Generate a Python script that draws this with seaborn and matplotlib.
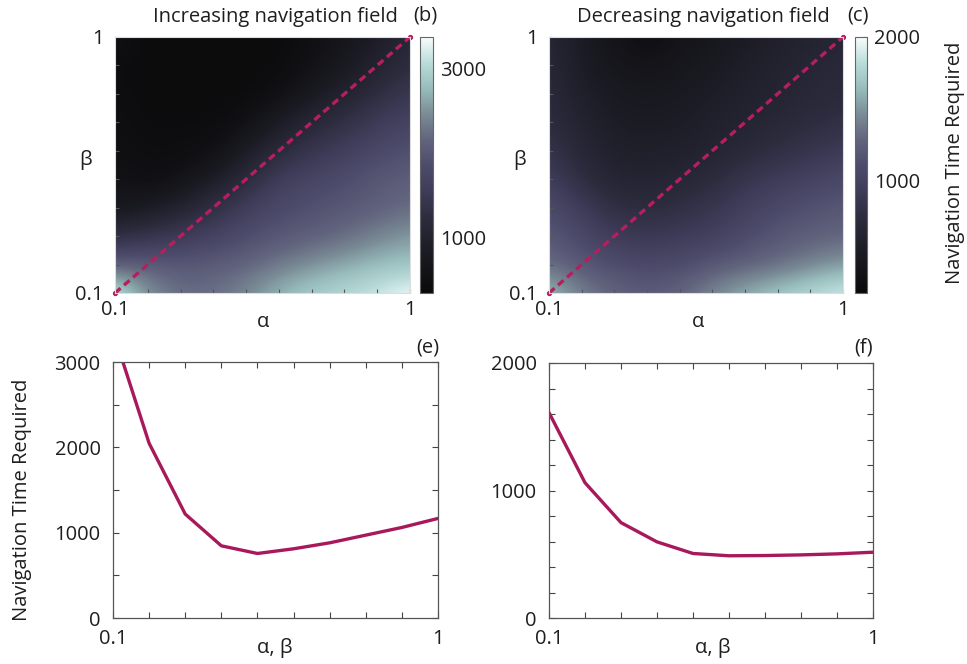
import numpy as np
import matplotlib
matplotlib.use("Agg")
import matplotlib.pyplot as plt
from matplotlib.colors import LinearSegmentedColormap
import seaborn as sns

# ---------------- data ----------------
alpha_vals = [0.1, 0.2, 0.3, 0.4, 0.5, 0.6, 0.7, 0.8, 0.9, 1.0]
beta_vals = [0.1, 0.2, 0.3, 0.4, 0.5, 0.6, 0.7, 0.8, 0.9, 1.0]

# rows: beta (0.1 -> 1.0), columns: alpha (0.1 -> 1.0)
time_increasing = [
    [3250, 2500, 2250, 2250, 2450, 2750, 2950, 3050, 3200, 3376],
    [2100, 2100, 2008, 2070, 2160, 2330, 2500, 2650, 2780, 2850],
    [1250, 1400, 1550, 1673, 1856, 2008, 2100, 2220, 2400, 2555],
    [700, 790, 1004, 1308, 1612, 1795, 1916, 2008, 2100, 2220],
    [578, 487, 578, 852, 1186, 1612, 1734, 1856, 2008, 2100],
    [520, 450, 450, 520, 852, 1186, 1430, 1612, 1795, 1916],
    [480, 420, 420, 420, 540, 852, 1126, 1308, 1551, 1703],
    [460, 400, 400, 400, 400, 520, 760, 1004, 1247, 1491],
    [420, 400, 400, 400, 400, 400, 580, 760, 1004, 1247],
    [560, 400, 400, 400, 400, 400, 500, 680, 850, 1126],
]
time_decreasing = [
    [1680, 1428, 1286, 1232, 1286, 1464, 1607, 1732, 1821, 1930],
    [1321, 1196, 1107, 1071, 1090, 1196, 1260, 1321, 1428, 1518],
    [1196, 1071, 928, 875, 928, 964, 1090, 1196, 1250, 1286],
    [1107, 928, 768, 732, 768, 860, 964, 1071, 1150, 1196],
    [964, 750, 625, 607, 660, 714, 860, 928, 1000, 1071],
    [839, 660, 571, 553, 571, 625, 696, 768, 839, 928],
    [750, 607, 518, 500, 518, 571, 625, 680, 730, 786],
    [714, 553, 482, 450, 482, 530, 580, 625, 680, 714],
    [696, 500, 428, 375, 428, 482, 553, 607, 660, 696],
    [660, 500, 375, 303, 375, 428, 500, 571, 607, 660],
]

# diagonal alpha = beta
diag_vals = [0.1, 0.2, 0.3, 0.4, 0.5, 0.6, 0.7, 0.8, 0.9, 1.0]
diag_increasing = [3360, 2048, 1218, 846, 756, 811, 881, 971, 1061, 1167]
diag_decreasing = [1611, 1061, 748, 597, 506, 488, 490, 495, 503, 516]

titles = ["Increasing navigation field", "Decreasing navigation field"]
panel_top = ["(b)", "(c)"]
panel_bot = ["(e)", "(f)"]

# ---------------- style ----------------
sns.set_theme(style="ticks")
plt.rcParams["font.family"] = ["Open Sans", "DejaVu Sans"]
FS = 14.5
LINE_C = "#A8195C"
DASH_C = "#B51F5E"
TXT_C = "#1e1e1e"

cmap = LinearSegmentedColormap.from_list(
    "navtime",
    [(0.0, "#0a0a0a"), (0.15, "#1a1a22"), (0.30, "#2e2d40"), (0.40, "#3e3c58"),
     (0.50, "#4e4c6c"), (0.60, "#62647e"), (0.70, "#7a8c96"), (0.80, "#98bcbc"),
     (0.90, "#b9dcda"), (1.0, "#f8fcfc")])

W, H = 967, 664
fig = plt.figure(figsize=(W / 100, H / 100), dpi=100)


def rect(x0, y0, x1, y1):
    return [x0 / W, 1 - y1 / H, (x1 - x0) / W, (y1 - y0) / H]


def ftext(x, y, s, **kw):
    kw.setdefault("fontsize", FS)
    kw.setdefault("color", TXT_C)
    fig.text(x / W, 1 - y / H, s, ha=kw.pop("ha", "center"), va=kw.pop("va", "center"), **kw)


heat_rects = [rect(115, 37, 410, 293), rect(549, 37, 843, 293)]
cbar_rects = [rect(420, 37, 433, 293), rect(855, 37, 867, 293)]
line_rects = [rect(113, 362, 438, 618), rect(549, 363, 873, 618)]
zdata = [time_increasing, time_decreasing]
vlims = [(335, 3380), (214, 2000)]
cb_ticks = [np.arange(500, 3001, 500), np.arange(400, 2001, 200)]
cb_labels = [{1000: "1000", 3000: "3000"}, {1000: "1000", 2000: "2000"}]
diag_lines = [diag_increasing, diag_decreasing]
ylims = [(0, 3000), (0, 2000)]
y_ticks = [np.arange(0, 3001, 500), np.arange(0, 2001, 200)]
y_labels = [{0: "0", 1000: "1000", 2000: "2000", 3000: "3000"},
            {0: "0", 1000: "1000", 2000: "2000"}]

x_ticklabels = ["0.1"] + [""] * 8 + ["1"]

for i in range(2):
    # ---- heatmap ----
    ax = fig.add_axes(heat_rects[i])
    da = (alpha_vals[1] - alpha_vals[0]) / 2
    db = (beta_vals[1] - beta_vals[0]) / 2
    im = ax.imshow(np.array(zdata[i], dtype=float), origin="lower", aspect="auto",
                   extent=[alpha_vals[0] - da, alpha_vals[-1] + da,
                           beta_vals[0] - db, beta_vals[-1] + db],
                   interpolation="bicubic", cmap=cmap,
                   vmin=vlims[i][0], vmax=vlims[i][1])
    sns.lineplot(x=diag_vals, y=diag_vals, ax=ax, color=DASH_C, lw=2.4,
                 linestyle=(0, (2.2, 1.4)))
    ax.plot([diag_vals[0], diag_vals[-1]], [diag_vals[0], diag_vals[-1]], "o",
            color=DASH_C, ms=2.8, clip_on=False)
    ax.set_xlim(0.1, 1)
    ax.set_ylim(0.1, 1)
    ax.set_xticks(alpha_vals)
    ax.set_xticklabels(x_ticklabels)
    ax.set_yticks(beta_vals)
    ax.set_yticklabels(x_ticklabels)
    ax.tick_params(direction="in", length=3, width=0.8, color="#555555",
                   labelsize=FS, labelcolor=TXT_C)
    ax.tick_params(axis="x", pad=5)
    ax.tick_params(axis="y", pad=8)
    for s in ax.spines.values():
        s.set_color("#dddddd")
        s.set_linewidth(0.8)
    ax.set_xlabel("")
    ax.set_ylabel("")

    cax = fig.add_axes(cbar_rects[i])
    cb = fig.colorbar(im, cax=cax)
    cb.set_ticks(cb_ticks[i])
    cb.set_ticklabels([cb_labels[i].get(int(t), "") for t in cb_ticks[i]])
    cax.tick_params(direction="in", length=3, width=0.8, color="#444444",
                    labelsize=FS, labelcolor=TXT_C, pad=5)
    cb.outline.set_edgecolor("#666666")
    cb.outline.set_linewidth(0.8)

    # ---- line plot ----
    axl = fig.add_axes(line_rects[i])
    sns.lineplot(x=diag_vals, y=diag_lines[i], ax=axl, color=LINE_C, lw=2.4)
    axl.set_xlim(0.1, 1)
    axl.set_ylim(*ylims[i])
    axl.set_xticks(alpha_vals)
    axl.set_xticklabels(x_ticklabels)
    axl.set_yticks(y_ticks[i])
    axl.set_yticklabels([y_labels[i].get(int(t), "") for t in y_ticks[i]])
    axl.tick_params(direction="in", length=4, width=0.8, color="#444444",
                    labelsize=FS, labelcolor=TXT_C, top=True, right=True)
    axl.tick_params(axis="x", pad=8)
    axl.tick_params(axis="y", pad=9)
    for s in axl.spines.values():
        s.set_color("#555555")
        s.set_linewidth(0.9)
    axl.set_xlabel("")
    axl.set_ylabel("")

# ---- texts ----
ftext(275, 17, titles[0])
ftext(703, 17, titles[1])
ftext(425, 16, panel_top[0])
ftext(858, 16, panel_top[1])
ftext(428, 348, panel_bot[0])
ftext(864, 348, panel_bot[1])
ftext(86, 160, "β")
ftext(520, 160, "β")
ftext(263, 322, "α")
ftext(698, 322, "α")
ftext(275, 648, "α, β")
ftext(713, 648, "α, β")
ftext(22, 500, "Navigation Time Required", rotation=90)
ftext(955, 163, "Navigation Time Required", rotation=90)

fig.savefig("out.png", dpi=100)
